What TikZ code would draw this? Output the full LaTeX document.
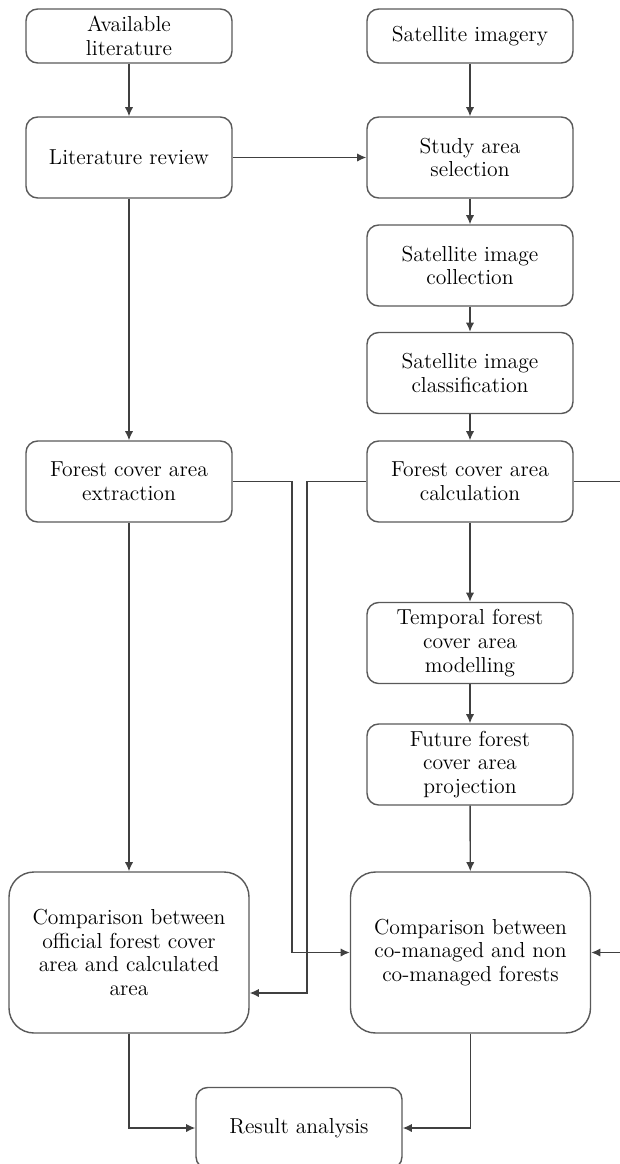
\documentclass[tikz,border=0pt]{standalone}
\usetikzlibrary{arrows.meta}
\begin{document}
\begin{tikzpicture}[x=0.6pt,y=-0.6pt,
  box/.style={draw=black!65, line width=0.85pt, rounded corners=7pt,
    align=center, inner sep=0pt, minimum width=123.6pt, minimum height=48.6pt,
    font=\fontsize{13}{14.2}\selectfont, text=black},
  bigbox/.style={box, rounded corners=15pt, minimum width=144pt, minimum height=96.6pt},
  arr/.style={draw=black!75, line width=0.85pt, -{Latex[length=5.5pt,width=5pt]}}]

  \useasboundingbox (0,0) rectangle (619,1164);

  %%%%%%%%%%%Left column%%%%%%%%%%%
  \node[box, minimum height=32.4pt] (avail) at (129,36) {Available\\literature};
  \node[box] (litrev) at (129,157.5) {Literature review};
  \node[box] (extract) at (129,481.5) {Forest cover area\\extraction};
  \node[bigbox] (cmpL) at (129,952.5) {Comparison between\\official forest cover\\area and calculated\\area};

  %%%%%%%%%%%Right column%%%%%%%%%%
  \node[box, minimum height=32.4pt] (sat) at (470,36) {Satellite imagery};
  \node[box] (study) at (470,157.5) {Study area\\selection};
  \node[box] (collect) at (470,265.5) {Satellite image\\collection};
  \node[box] (classif) at (470,373) {Satellite image\\classification};
  \node[box] (calc) at (470,481.5) {Forest cover area\\calculation};
  \node[box] (temporal) at (470,643) {Temporal forest\\cover area\\modelling};
  \node[box] (future) at (470,764.5) {Future forest\\cover area\\projection};
  \node[bigbox] (cmpR) at (470.5,952.5) {Comparison between\\co-managed and non\\co-managed forests};

  %%%%%%%%%%%Bottom%%%%%%%%%%%%%%%%
  \node[box] (result) at (299,1128) {Result analysis};

  %%%%%%%%%%%Bend points%%%%%%%%%%%
  \coordinate (jA) at (292,0);
  \coordinate (jB) at (307,993);
  \coordinate (jC) at (625,0);

  %%%%%%%%%%%Arrows%%%%%%%%%%%%%%%%
  \draw[arr] (avail) -- (litrev);
  \draw[arr] (sat) -- (study);
  \draw[arr] (litrev) -- (study);
  \draw[arr] (study) -- (collect);
  \draw[arr] (collect) -- (classif);
  \draw[arr] (classif) -- (calc);
  \draw[arr] (litrev) -- (extract);
  \draw[arr] (calc) -- (temporal);
  \draw[arr] (temporal) -- (future);
  \draw[arr] (future) -- (cmpR);
  \draw[arr] (extract) -- (cmpL);
  \draw[arr] (extract.east) -| (jA |- cmpR.west) -- (cmpR.west);
  \draw[arr] (calc.west) -| (jB) -- (jB -| cmpL.east);
  \draw[arr] (calc.east) -| (jC |- cmpR.east) -- (cmpR.east);
  \draw[arr] (cmpL.south) |- (result.west);
  \draw[arr] (cmpR.south) |- (result.east);
\end{tikzpicture}
\end{document}
